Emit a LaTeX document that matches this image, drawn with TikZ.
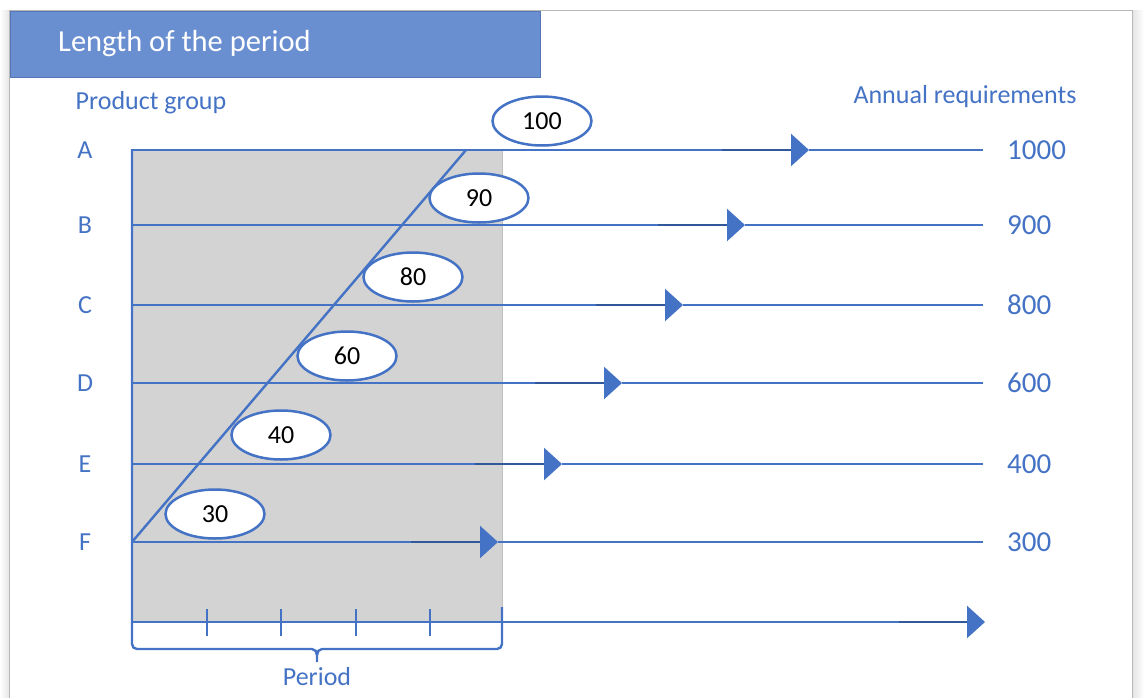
\documentclass[tikz,border=0pt]{standalone}
\usepackage{fontspec}
\setmainfont{Carlito}
\usetikzlibrary{arrows.meta,shapes.geometric}
\definecolor{lblue}{RGB}{68,114,196}
\definecolor{dblue}{RGB}{50,88,156}
\definecolor{tbar}{RGB}{106,143,208}
\definecolor{tbord}{RGB}{84,118,182}
\definecolor{shadegray}{RGB}{211,211,211}
\begin{document}
\begin{tikzpicture}[x=1pt,y=-1pt,
  hline/.style={draw=lblue, line width=2.4pt},
  darkseg/.style={draw=dblue, line width=2.4pt},
  arrowtip/.style={-{Triangle[length=18pt,width=32pt]}, draw=lblue, line width=2.4pt},
  tickline/.style={draw=lblue, line width=2.4pt},
  numell/.style={ellipse, draw=lblue, line width=2.5pt, fill=white, minimum width=99pt, minimum height=49pt, inner sep=0pt, text=black, font=\fontsize{26}{30}\selectfont},
  lbl/.style={text=lblue, font=\fontsize{26}{30}\selectfont, inner sep=0pt},
  vallbl/.style={text=lblue, font=\fontsize{29}{33}\selectfont, inner sep=0pt, anchor=west}
]
\useasboundingbox (0,0) rectangle (1144,697);
% frame with shadow
\shade[left color=white, right color=black!10] (0,10) rectangle (9,697);
\shade[left color=black!10, right color=white] (1133,10) rectangle (1144,697);
\draw[black!28, line width=1.5pt] (9.5,720) -- (9.5,10.5) -- (1132.5,10.5) -- (1132.5,720);
% title bar
\node[fill=tbar, draw=tbord, line width=1pt, minimum width=530pt, minimum height=66pt, inner sep=0pt, anchor=north west] (title) at (10,11) {};
\node[text=white, font=\fontsize{30.5}{34}\selectfont, anchor=west, inner sep=0pt] (titletext) at (58,44) {Length of the period};
% headings
\node[lbl] (pg) at (151,103) {Product group};
\node[lbl] (ar) at (965,97) {Annual requirements};
% grey period area
\node[fill=shadegray, draw=black!25, line width=1pt, minimum width=370pt, minimum height=473pt, inner sep=0pt, anchor=north west] (area) at (132,149) {};
% horizontal lines
\foreach \n/\y/\t/\v in {A/150/809/1000, B/225/745/900, C/305/683/800, D/383/622/600, E/464/562/400, F/542/498/300}{
  \coordinate (s\n) at (132,\y);
  \coordinate (t\n) at (\t,\y);
  \coordinate (d\n) at ({\t-87},\y);
  \coordinate (e\n) at (983,\y);
  \node[lbl] (l\n) at (85,\y) {\n};
  \node[vallbl] (v\n) at (1007,\y) {\v};
  \draw[hline] (s\n) -- (d\n);
  \draw[darkseg] (d\n) -- ({\t-16},\y);
  \draw[arrowtip] ({\t-16},\y) -- (t\n);
  \draw[hline] (t\n) -- (e\n);
}
% bottom axis
\coordinate (ax0) at (132,622);
\coordinate (axd) at (899,622);
\coordinate (axt) at (985,622);
\draw[hline] (ax0) -- (axd);
\draw[darkseg] (axd) -- (968,622);
\draw[arrowtip] (968,622) -- (axt);
\foreach \x in {207,281,356,430}{
  \draw[tickline] (\x,609) -- (\x,636);
}
% left axis and brace
\coordinate (top) at (132,149);
\coordinate (bmid) at (317,662);
\draw[hline] (top) -- (132,644) to[out=-90,in=180] (137,649) -- (312,649) to[out=0,in=90] (317,655) -- (bmid);
\draw[hline] (317,655) to[out=90,in=180] (322,649) -- (497,649) to[out=0,in=-90] (502,644) -- (502,607);
\node[lbl] (period) at (317,677) {Period};
% diagonal
\coordinate (dg0) at (132,542);
\coordinate (dg1) at (466,150);
\draw[hline] (dg0) -- (dg1);
% value ellipses
\node[numell] (e100) at (542,121) {100};
\node[numell] (e90) at (479,198) {90};
\node[numell] (e80) at (413,277) {80};
\node[numell] (e60) at (347,356) {60};
\node[numell] (e40) at (281,435) {40};
\node[numell] (e30) at (215,514) {30};
\end{tikzpicture}
\end{document}
